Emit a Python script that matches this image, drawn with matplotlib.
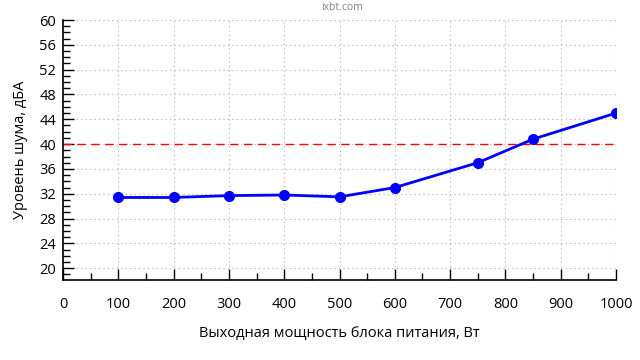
import matplotlib
matplotlib.use("Agg")
import matplotlib.pyplot as plt
from matplotlib.ticker import MultipleLocator

power = [100, 200, 300, 400, 500, 600, 750, 850, 1000]
noise = [31.4, 31.4, 31.7, 31.8, 31.5, 33.0, 37.0, 40.8, 45.0]
limit = 40
x_ticks = list(range(0, 1001, 100))
y_ticks = list(range(20, 61, 4))

plt.rcParams['font.family'] = ['Open Sans', 'DejaVu Sans']

fig = plt.figure(figsize=(6.4, 3.6), dpi=100)
ax = fig.add_axes([63/640, 1-280/360, (616-63)/640, (280-20)/360])

ax.set_xlim(0, 1000)
ax.set_ylim(18.1, 60)
ax.set_xticks(x_ticks)
ax.set_yticks(y_ticks)
ax.xaxis.set_minor_locator(MultipleLocator(50))
ax.yaxis.set_minor_locator(MultipleLocator(1))

ax.grid(True, which='major', linestyle=(0, (1, 3)), color='#b0b0b0', linewidth=0.8)
ax.axhline(limit, color='red', linestyle=(0, (6, 4)), linewidth=1.0, zorder=2)
ax.plot(power, noise, color='#0000ff', linewidth=2, marker='o', markersize=7, zorder=3)

for s in ['top', 'right']:
    ax.spines[s].set_visible(False)
for s in ['left', 'bottom']:
    ax.spines[s].set_linewidth(1.2)

ax.tick_params(axis='both', which='major', direction='in', length=8, width=1, labelsize=10.5)
ax.tick_params(axis='both', which='minor', direction='in', length=5, width=1)
ax.tick_params(axis='x', which='major', pad=12)
ax.tick_params(axis='y', which='major', pad=5)

ax.set_xlabel('Выходная мощность блока питания, Вт', fontsize=10.5, labelpad=10)
ax.set_ylabel('Уровень шума, дБА', fontsize=10.5, labelpad=8)

fig.text(342/640, 1-8/360, 'ixbt.com', ha='center', va='center', fontsize=7.5, color='#808080')

fig.savefig('out.png', dpi=100)
